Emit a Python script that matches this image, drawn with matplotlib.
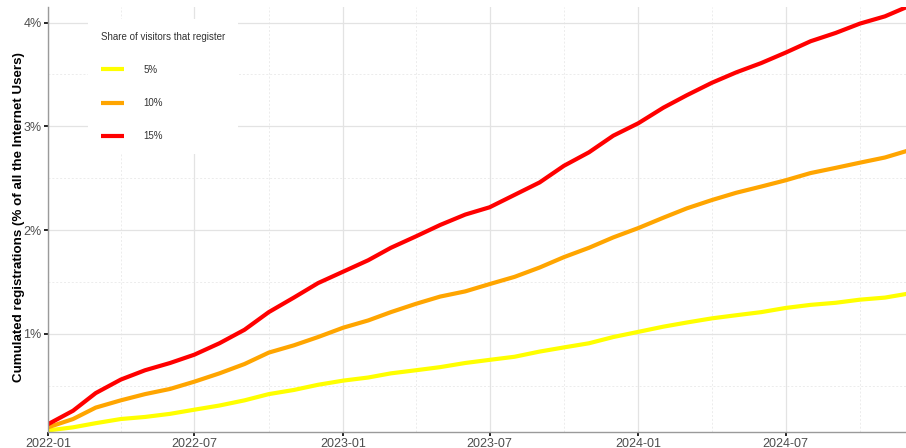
import numpy as np
import pandas as pd
import matplotlib
matplotlib.use("Agg")
import matplotlib.pyplot as plt
import matplotlib.dates as mdates
from matplotlib.ticker import FixedLocator, FuncFormatter

plt.rcParams['font.family'] = ['Liberation Sans', 'DejaVu Sans']

# monthly cumulated registrations (% of all internet users)
months = pd.date_range("2022-01-01", "2024-12-01", freq="MS")
share_5 = [0.07, 0.10, 0.14, 0.18, 0.20, 0.23, 0.27, 0.31, 0.36, 0.42, 0.46, 0.51,
           0.55, 0.58, 0.62, 0.65, 0.68, 0.72, 0.75, 0.78, 0.83, 0.87, 0.91, 0.97,
           1.02, 1.07, 1.11, 1.15, 1.18, 1.21, 1.25, 1.28, 1.30, 1.33, 1.35, 1.39]
share_10 = [0.10, 0.18, 0.29, 0.36, 0.42, 0.47, 0.54, 0.62, 0.71, 0.82, 0.89, 0.97,
            1.06, 1.13, 1.21, 1.29, 1.36, 1.41, 1.48, 1.55, 1.64, 1.74, 1.83, 1.93,
            2.02, 2.12, 2.21, 2.29, 2.36, 2.42, 2.48, 2.55, 2.60, 2.65, 2.70, 2.77]
share_15 = [0.13, 0.26, 0.43, 0.56, 0.65, 0.72, 0.80, 0.91, 1.04, 1.21, 1.35, 1.49,
            1.60, 1.71, 1.83, 1.94, 2.05, 2.15, 2.22, 2.34, 2.46, 2.62, 2.75, 2.91,
            3.03, 3.18, 3.30, 3.42, 3.52, 3.61, 3.71, 3.82, 3.90, 3.99, 4.06, 4.16]
labels = ["5%", "10%", "15%"]
colors = ["#FFFF00", "#FFA500", "#FF0000"]

fig = plt.figure(figsize=(9.06, 4.48), dpi=100)
ax = fig.add_axes([48 / 906, 16 / 448, 858 / 906, 425 / 448])

for vals, lab, col in zip([share_5, share_10, share_15], labels, colors):
    ax.plot(months, vals, color=col, lw=3, label=lab, solid_capstyle="butt")

# axis ranges
ax.set_xlim(pd.Timestamp("2022-01-01"), pd.Timestamp("2024-11-27"))
ax.set_ylim(0.055, 4.15)

# ticks
major_x = pd.date_range("2022-01-01", "2024-07-01", freq="6MS")
minor_x = pd.date_range("2022-04-01", "2024-10-01", freq="6MS")
ax.xaxis.set_major_locator(FixedLocator(mdates.date2num(major_x)))
ax.xaxis.set_minor_locator(FixedLocator(mdates.date2num(minor_x)))
ax.xaxis.set_major_formatter(mdates.DateFormatter("%Y-%m"))
ax.yaxis.set_major_locator(FixedLocator([1, 2, 3, 4]))
ax.yaxis.set_minor_locator(FixedLocator([0.5, 1.5, 2.5, 3.5]))
ax.yaxis.set_major_formatter(FuncFormatter(lambda v, p: f"{v:.0f}%"))

ax.tick_params(which="major", length=3, width=1.2, color="black",
               labelsize=9, labelcolor="#4d4d4d", pad=1.5)
ax.tick_params(which="minor", length=0)

ax.grid(which="major", color="#e3e3e3", lw=0.9)
ax.grid(which="minor", color="#ececec", lw=0.7, ls=(0, (2, 2)))
ax.set_axisbelow(True)

for s in ["top", "right"]:
    ax.spines[s].set_visible(False)
for s in ["left", "bottom"]:
    ax.spines[s].set_color("#9a9a9a")
    ax.spines[s].set_linewidth(1.0)

ax.set_ylabel("Cumulated registrations (% of all the Internet Users)",
              fontsize=9.6, fontweight="bold", color="black")
ax.yaxis.set_label_coords(-23 / 858, 0.5 + 2 / 425)

leg = ax.legend(title="Share of visitors that register", loc="upper left",
                bbox_to_anchor=(40 / 858, 1 - 12 / 425), fontsize=7,
                title_fontsize=7, frameon=True, facecolor="white", edgecolor="none",
                framealpha=1, fancybox=False, labelspacing=2.38, handlelength=2.4,
                handletextpad=2.0, borderpad=1.3, borderaxespad=0)
leg.get_title().set_color("#333333")
leg._legend_box.align = "left"
for t in leg.get_texts():
    t.set_color("#333333")

fig.savefig("out.png", dpi=100)
